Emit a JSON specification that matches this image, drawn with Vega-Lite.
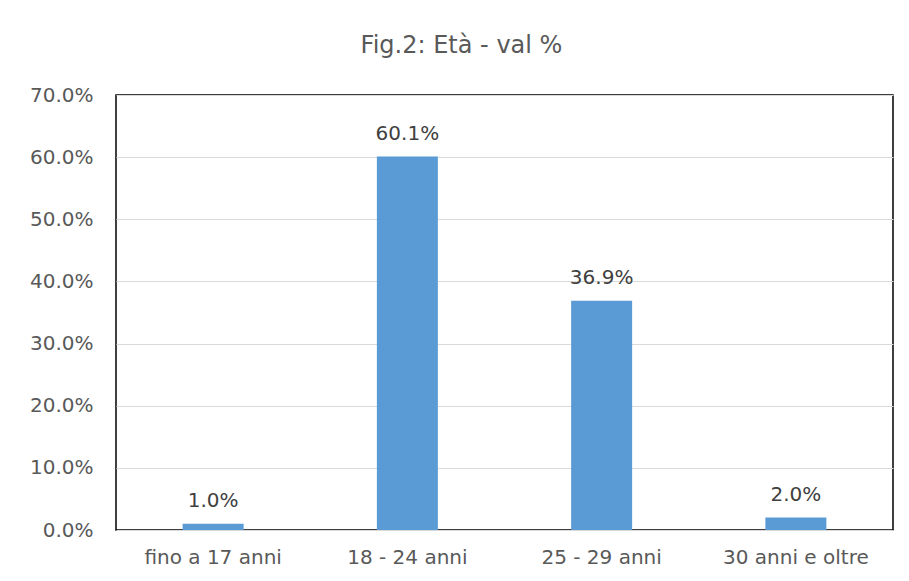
{
  "$schema": "https://vega.github.io/schema/vega-lite/v6.json",
  "autosize": {"type": "none"},
  "width": 777,
  "height": 435,
  "padding": {"left": 116, "top": 95, "right": 16, "bottom": 51},
  "background": "white",
  "title": {
    "text": "Fig.2: Età - val %",
    "font": "DejaVu Sans",
    "fontSize": 24,
    "fontWeight": "normal",
    "color": "#595959",
    "anchor": "middle",
    "offset": 27,
    "dx": -43
  },
  "data": {
    "values": [
      {"categoria": "fino a 17 anni", "valore": 0.010},
      {"categoria": "18 - 24 anni", "valore": 0.601},
      {"categoria": "25 - 29 anni", "valore": 0.369},
      {"categoria": "30 anni e oltre", "valore": 0.020}
    ]
  },
  "encoding": {
    "x": {
      "field": "categoria",
      "type": "nominal",
      "sort": null,
      "scale": {"paddingInner": 0.686, "paddingOuter": 0.343},
      "axis": {
        "title": null,
        "labelAngle": 0,
        "labelFont": "DejaVu Sans",
        "labelFontSize": 20,
        "labelColor": "#595959",
        "labelPadding": 17,
        "ticks": false,
        "domain": false
      }
    },
    "y": {
      "field": "valore",
      "type": "quantitative",
      "scale": {"domain": [0, 0.7]},
      "axis": {
        "title": null,
        "format": ".1%",
        "values": [0, 0.1, 0.2, 0.3, 0.4, 0.5, 0.6, 0.7],
        "labelFont": "DejaVu Sans",
        "labelFontSize": 20,
        "labelColor": "#595959",
        "labelPadding": 23,
        "ticks": false,
        "domain": false,
        "grid": true,
        "gridColor": "#d9d9d9",
        "gridWidth": 1
      }
    }
  },
  "layer": [
    {"mark": {"type": "bar", "color": "#5b9bd5"}},
    {
      "mark": {
        "type": "text",
        "baseline": "alphabetic",
        "dy": -17,
        "font": "DejaVu Sans",
        "fontSize": 20,
        "color": "#404040"
      },
      "encoding": {"text": {"field": "valore", "format": ".1%"}}
    }
  ],
  "config": {
    "view": {"stroke": "#000000", "strokeWidth": 1.5}
  }
}
